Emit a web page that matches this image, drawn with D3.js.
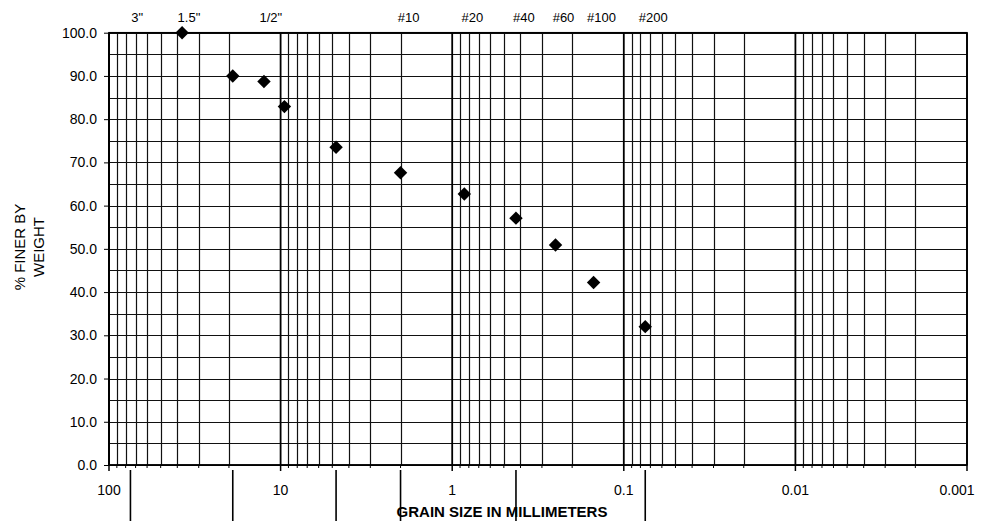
<!DOCTYPE html>
<html>
<head>
<meta charset="utf-8">
<script src="https://cdn.jsdelivr.net/npm/d3@7/dist/d3.min.js"></script>
<style>
  html, body { margin: 0; padding: 0; background: #fff; }
  svg { display: block; }
  text { font-family: "Liberation Sans", Arial, sans-serif; fill: #000; }
</style>
</head>
<body>
<svg id="chart" width="985" height="521"></svg>
<script>
// ---- data ----
const grainSizes = [37.5, 19, 12.5, 9.5, 4.75, 2.0, 0.85, 0.425, 0.25, 0.15, 0.075];
const percentFiner = [100.0, 90.0, 88.7, 82.9, 73.5, 67.6, 62.7, 57.1, 50.9, 42.2, 32.0];
const sieveLabels = ['3"', '1.5"', '1/2"', '#10', '#20', '#40', '#60', '#100', '#200'];
const sieveSizes = [76.2, 38.1, 12.7, 2.0, 0.85, 0.425, 0.25, 0.15, 0.075];
const xTickValues = [100, 10, 1, 0.1, 0.01, 0.001];
const xTickLabels = ['100', '10', '1', '0.1', '0.01', '0.001'];
const yTickValues = [0, 10, 20, 30, 40, 50, 60, 70, 80, 90, 100];
const yGridValues = [0, 5, 10, 15, 20, 25, 30, 35, 40, 45, 50, 55, 60, 65, 70, 75, 80, 85, 90, 95, 100];
const boundarySizes = [75, 19, 4.75, 2.0, 0.425, 0.075];
const xTitle = 'GRAIN SIZE IN MILLIMETERS';
const yTitleLines = ['% FINER BY', 'WEIGHT'];

(function () {
// ---- layout ----
const W = 985, H = 521;
const pL = 109, pR = 967, pT = 32.7, pB = 465;

const svg = d3.select('#chart');
const x = d3.scaleLog().domain([100, 0.001]).range([pL, pR]);
const y = d3.scaleLinear().domain([0, 100]).range([pB, pT]);

// minor log gridlines (2..9 per decade)
const minorVals = [];
for (let e = -3; e < 2; e++) {
  for (let m = 2; m <= 9; m++) minorVals.push(m * Math.pow(10, e));
}

const g = svg.append('g');

// horizontal gridlines
g.append('g').selectAll('line').data(yGridValues).join('line')
  .attr('x1', pL).attr('x2', pR)
  .attr('y1', d => Math.round(y(d)) + 0.5).attr('y2', d => Math.round(y(d)) + 0.5)
  .attr('stroke', '#111').attr('stroke-width', 1);

// vertical minor gridlines
g.append('g').selectAll('line').data(minorVals).join('line')
  .attr('x1', d => Math.round(x(d)) + 0.5).attr('x2', d => Math.round(x(d)) + 0.5)
  .attr('y1', pT).attr('y2', pB)
  .attr('stroke', '#111').attr('stroke-width', 1.2);

// decade gridlines
g.append('g').selectAll('line').data(xTickValues).join('line')
  .attr('x1', d => x(d)).attr('x2', d => x(d))
  .attr('y1', pT).attr('y2', pB)
  .attr('stroke', '#000').attr('stroke-width', 1.8);

// frame
g.append('rect').attr('x', pL).attr('y', pT)
  .attr('width', pR - pL).attr('height', pB - pT)
  .attr('fill', 'none').attr('stroke', '#000').attr('stroke-width', 1.5);
g.append('line').attr('x1', pL).attr('x2', pL).attr('y1', pT).attr('y2', pB)
  .attr('stroke', '#000').attr('stroke-width', 2);

// y axis
const yAxis = d3.axisLeft(y).tickValues(yTickValues).tickSize(5).tickPadding(7)
  .tickFormat(d => d3.format('.1f')(d));
const ya = svg.append('g').attr('transform', `translate(${pL},0)`).call(yAxis);
ya.select('.domain').remove();
ya.selectAll('line').attr('stroke', '#000');
ya.selectAll('text').attr('font-size', 14).attr('font-family', '"Liberation Sans", Arial, sans-serif');

// x axis: decade ticks + minor ticks
const xa = svg.append('g');
xa.append('line').attr('x1', pL).attr('x2', pR).attr('y1', pB).attr('y2', pB)
  .attr('stroke', '#000').attr('stroke-width', 1.5);
xa.selectAll('line.maj').data(xTickValues).join('line').attr('class', 'maj')
  .attr('x1', d => x(d)).attr('x2', d => x(d)).attr('y1', pB).attr('y2', pB + 6)
  .attr('stroke', '#000').attr('stroke-width', 1.5);
xa.selectAll('line.min').data(minorVals).join('line').attr('class', 'min')
  .attr('x1', d => x(d)).attr('x2', d => x(d)).attr('y1', pB).attr('y2', pB + 3)
  .attr('stroke', '#000').attr('stroke-width', 1);
xa.selectAll('text').data(xTickValues).join('text')
  .attr('x', d => Math.min(x(d), W - 28))
  .attr('y', 495)
  .attr('text-anchor', 'middle')
  .attr('font-size', 14)
  .text((d, i) => xTickLabels[i]);

// boundary lines below axis
svg.append('g').selectAll('line').data(boundarySizes).join('line')
  .attr('x1', d => x(d)).attr('x2', d => x(d))
  .attr('y1', 470).attr('y2', H)
  .attr('stroke', '#000').attr('stroke-width', 1.6);

// sieve labels on top
svg.append('g').selectAll('text').data(sieveSizes).join('text')
  .attr('x', d => x(d) + 8)
  .attr('y', 22)
  .attr('text-anchor', 'middle')
  .attr('font-size', 13)
  .text((d, i) => sieveLabels[i]);

// titles
svg.append('text').attr('x', (pL + pR) / 2 - 36).attr('y', 517)
  .attr('text-anchor', 'middle').attr('font-size', 15).attr('font-weight', 'bold')
  .text(xTitle);
const yt = svg.append('text').attr('transform', 'translate(25,247) rotate(-90)')
  .attr('text-anchor', 'middle').attr('font-size', 15);
yTitleLines.forEach((t, i) => {
  yt.append('tspan').attr('x', 0).attr('dy', i === 0 ? 0 : 19).text(t);
});

// data points (diamonds)
const diamond = d3.symbol().type(d3.symbolSquare).size(90);
svg.append('g').selectAll('path').data(grainSizes).join('path')
  .attr('d', diamond)
  .attr('transform', (d, i) => `translate(${x(d)},${y(percentFiner[i])}) rotate(45)`)
  .attr('fill', '#000');
})();
</script>
</body>
</html>
